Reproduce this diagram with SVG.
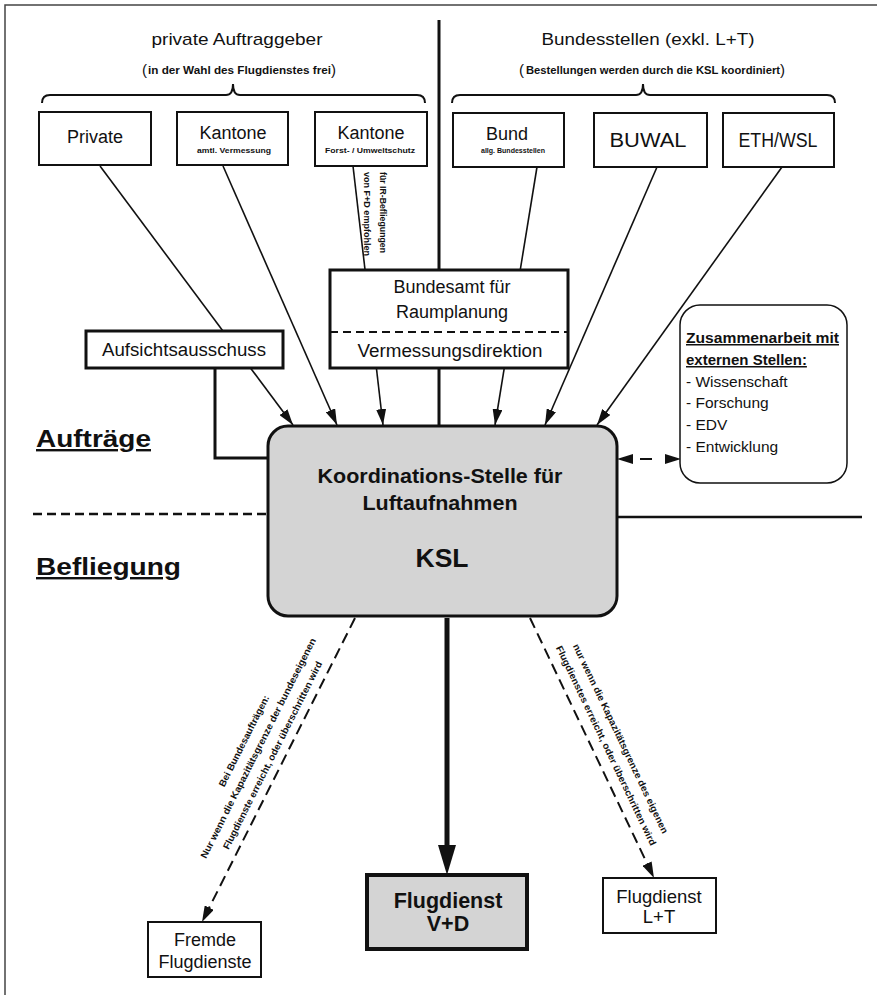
<svg xmlns="http://www.w3.org/2000/svg" width="879" height="995" viewBox="0 0 879 995">
<style>
  .t { font-family: "Liberation Sans", Arial, Helvetica, sans-serif; fill: #111; }
  .b { font-weight: bold; }
  .box { fill: #fff; stroke: #111; stroke-width: 2; }
  .thick { fill: #fff; stroke: #111; stroke-width: 3; }
  .grey { fill: #d4d4d4; }
  .conn { fill: none; stroke: #111; stroke-width: 1.6; }
  .dash { fill: none; stroke: #111; stroke-width: 2; stroke-dasharray: 11 6; }
  .div { fill: none; stroke: #111; stroke-width: 3; }
  .brace { fill: none; stroke: #111; stroke-width: 2; }
</style>
<defs>
  <marker id="ah" viewBox="0 0 16 10" refX="16" refY="5" markerWidth="16" markerHeight="10" markerUnits="userSpaceOnUse" orient="auto">
    <path d="M0,0 L16,5 L0,10 z" fill="#111"/>
  </marker>
  <marker id="ah2" viewBox="0 0 16 10" refX="16" refY="5" markerWidth="16" markerHeight="10" markerUnits="userSpaceOnUse" orient="auto-start-reverse">
    <path d="M0,0 L16,5 L0,10 z" fill="#111"/>
  </marker>
  <marker id="ahBig" viewBox="0 0 30 18" refX="15" refY="9" markerWidth="30" markerHeight="18" markerUnits="userSpaceOnUse" orient="auto">
    <path d="M0,0 L30,9 L0,18 z" fill="#111"/>
  </marker>
</defs>

<rect x="0" y="0" width="879" height="995" fill="#fff"/>

<!-- frame -->
<path d="M5,995 V5 H877" fill="none" stroke="#444" stroke-width="1.5"/>

<!-- dividers -->
<g id="dividers">
  <path class="div" d="M439,20 V270 M439,368 V426"/>
  <path d="M33,514 H268" fill="none" stroke="#111" stroke-width="2.5" stroke-dasharray="9 5"/>
  <path d="M617,517 H862" fill="none" stroke="#111" stroke-width="2.5"/>
</g>

<!-- headers -->
<g id="header-private">
  <text class="t" x="237" y="45" font-size="17" text-anchor="middle" textLength="171" lengthAdjust="spacingAndGlyphs">private Auftraggeber</text>
  <text class="t" x="142" y="75" font-size="15">(</text>
  <text class="t b" x="148" y="74" font-size="11" textLength="183" lengthAdjust="spacingAndGlyphs">in der Wahl des Flugdienstes frei</text>
  <text class="t" x="331" y="75" font-size="15">)</text>
  <path class="brace" d="M42,103 Q42,95 50,95 L226,95 Q233,95 233,84 Q233,95 240,95 L417,95 Q425,95 425,103"/>
</g>
<g id="header-bund">
  <text class="t" x="648" y="45" font-size="17" text-anchor="middle" textLength="213" lengthAdjust="spacingAndGlyphs">Bundesstellen (exkl. L+T)</text>
  <text class="t" x="519" y="75" font-size="15">(</text>
  <text class="t b" x="526" y="74" font-size="11" textLength="254" lengthAdjust="spacingAndGlyphs">Bestellungen werden durch die KSL koordiniert</text>
  <text class="t" x="780" y="75" font-size="15">)</text>
  <path class="brace" d="M452,103 Q452,95 460,95 L636,95 Q643,95 643,84 Q643,95 650,95 L827,95 Q835,95 835,103"/>
</g>

<!-- section labels -->
<g id="labels">
  <text class="t b" x="36" y="447" font-size="24" text-decoration="underline" textLength="115" lengthAdjust="spacingAndGlyphs">Aufträge</text>
  <text class="t b" x="36" y="575" font-size="24" text-decoration="underline" textLength="145" lengthAdjust="spacingAndGlyphs">Befliegung</text>
</g>

<!-- connectors -->
<g id="connectors">
  <path class="conn" d="M100,166 L293,425" marker-end="url(#ah)"/>
  <path class="conn" d="M223,166 L337,425" marker-end="url(#ah)"/>
  <path class="conn" d="M353,166 L383,425" marker-end="url(#ah)"/>
  <path class="conn" d="M537,167 L495,425" marker-end="url(#ah)"/>
  <path class="conn" d="M657,167 L545,425" marker-end="url(#ah)"/>
  <path class="conn" d="M782,167 L597,425" marker-end="url(#ah)"/>
  <path d="M215,368 V458 H268" fill="none" stroke="#111" stroke-width="3"/>
  <path d="M617,459 L681,459" fill="none" stroke="#111" stroke-width="2" stroke-dasharray="0 23 12 100" marker-start="url(#ah2)" marker-end="url(#ah2)"/>
  <path d="M447,618 V860" fill="none" stroke="#111" stroke-width="5" marker-end="url(#ahBig)"/>
  <path class="dash" d="M355,618 L202,922" marker-end="url(#ah)"/>
  <path class="dash" d="M530,618 L654,878" marker-end="url(#ah)"/>
  <text class="t b" font-size="9" transform="translate(375,172) rotate(90)">
    <tspan x="0" y="-5" textLength="81" lengthAdjust="spacingAndGlyphs">für IR-Befliegungen</tspan>
    <tspan x="0" y="11" textLength="84" lengthAdjust="spacingAndGlyphs">von F+D empfohlen</tspan>
  </text>
  <g transform="translate(258,748) rotate(-63.3)">
    <text class="t b" font-size="9.5" text-anchor="middle" x="0" y="-12.5" textLength="101" lengthAdjust="spacingAndGlyphs">Bei Bundesaufträgen:</text>
    <text class="t b" font-size="9.5" text-anchor="middle" x="0" y="3.5" textLength="245" lengthAdjust="spacingAndGlyphs">Nur wenn die Kapazitätsgrenze der bundeseigenen</text>
    <text class="t b" font-size="9.5" text-anchor="middle" x="0" y="19.5" textLength="209" lengthAdjust="spacingAndGlyphs">Flugdienste erreicht, oder überschritten wird</text>
  </g>
  <g transform="translate(613.6,742) rotate(64.5)">
    <text class="t b" font-size="9.5" text-anchor="middle" x="0" y="-4.5" textLength="209" lengthAdjust="spacingAndGlyphs">nur wenn die Kapazitätsgrenze des eigenen</text>
    <text class="t b" font-size="9.5" text-anchor="middle" x="0" y="11.5" textLength="220" lengthAdjust="spacingAndGlyphs">Flugdienstes erreicht, oder überschritten wird</text>
  </g>
</g>

<!-- nodes -->
<g id="n-private">
  <rect class="box" x="39" y="112" width="112" height="53"/>
  <text class="t" x="95" y="143" font-size="18" text-anchor="middle">Private</text>
</g>
<g id="n-kantone-verm">
  <rect class="box" x="177" y="112" width="111" height="53"/>
  <text class="t" x="233" y="139" font-size="18" text-anchor="middle">Kantone</text>
  <text class="t b" x="234" y="153" font-size="7.5" text-anchor="middle" textLength="74" lengthAdjust="spacingAndGlyphs">amtl. Vermessung</text>
</g>
<g id="n-kantone-forst">
  <rect class="box" x="315" y="112" width="112" height="54"/>
  <text class="t" x="371" y="139" font-size="18" text-anchor="middle">Kantone</text>
  <text class="t b" x="370" y="153" font-size="7.5" text-anchor="middle" textLength="90" lengthAdjust="spacingAndGlyphs">Forst- / Umweltschutz</text>
</g>
<g id="n-bund">
  <rect class="box" x="453" y="113" width="111" height="54"/>
  <text class="t" x="507" y="140" font-size="18" text-anchor="middle">Bund</text>
  <text class="t b" x="513" y="153" font-size="7" text-anchor="middle" textLength="64" lengthAdjust="spacingAndGlyphs">allg. Bundesstellen</text>
</g>
<g id="n-buwal">
  <rect class="box" x="594" y="113" width="113" height="54"/>
  <text class="t" x="648" y="147" font-size="20" text-anchor="middle" textLength="77" lengthAdjust="spacingAndGlyphs">BUWAL</text>
</g>
<g id="n-eth">
  <rect class="box" x="723" y="113" width="111" height="54"/>
  <text class="t" x="778" y="147" font-size="20" text-anchor="middle" textLength="79" lengthAdjust="spacingAndGlyphs">ETH/WSL</text>
</g>
<g id="n-bundesamt">
  <rect class="thick" x="330" y="270" width="238" height="98"/>
  <path d="M330,332 H568" stroke="#111" stroke-width="2" stroke-dasharray="8 5"/>
  <text class="t" x="452" y="293" font-size="18" text-anchor="middle">Bundesamt für</text>
  <text class="t" x="452" y="318" font-size="18" text-anchor="middle">Raumplanung</text>
  <text class="t" x="450" y="357" font-size="18" text-anchor="middle" textLength="185" lengthAdjust="spacingAndGlyphs">Vermessungsdirektion</text>
</g>
<g id="n-aufsicht">
  <rect class="thick" x="86" y="331" width="197" height="37" stroke-width="2.5"/>
  <text class="t" x="184" y="356" font-size="18" text-anchor="middle" textLength="164" lengthAdjust="spacingAndGlyphs">Aufsichtsausschuss</text>
</g>
<g id="n-ksl">
  <rect x="268" y="426" width="349" height="190" rx="20" fill="#d4d4d4" stroke="#111" stroke-width="3"/>
  <text class="t b" x="440" y="483" font-size="20" text-anchor="middle" textLength="245" lengthAdjust="spacingAndGlyphs">Koordinations-Stelle für</text>
  <text class="t b" x="440" y="510" font-size="20" text-anchor="middle" textLength="155" lengthAdjust="spacingAndGlyphs">Luftaufnahmen</text>
  <text class="t b" x="442" y="567" font-size="25" text-anchor="middle" textLength="53" lengthAdjust="spacingAndGlyphs">KSL</text>
</g>
<g id="n-extern">
  <rect x="680" y="305" width="167" height="178" rx="20" fill="#fff" stroke="#111" stroke-width="1.5"/>
  <text class="t b" x="686" y="343" font-size="15" text-decoration="underline" textLength="153" lengthAdjust="spacingAndGlyphs">Zusammenarbeit mit</text>
  <text class="t b" x="686" y="365" font-size="15" text-decoration="underline">externen Stellen:</text>
  <text class="t" x="686" y="387" font-size="15.5">- Wissenschaft</text>
  <text class="t" x="686" y="408" font-size="15.5">- Forschung</text>
  <text class="t" x="686" y="430" font-size="15.5">- EDV</text>
  <text class="t" x="686" y="452" font-size="15.5">- Entwicklung</text>
</g>
<g id="n-fremde">
  <rect class="box" x="148" y="922" width="113" height="55"/>
  <text class="t" x="205" y="946" font-size="18" text-anchor="middle">Fremde</text>
  <text class="t" x="205" y="968" font-size="18" text-anchor="middle">Flugdienste</text>
</g>
<g id="n-vd">
  <rect x="367" y="875" width="160" height="74" fill="#d4d4d4" stroke="#111" stroke-width="4"/>
  <text class="t b" x="448" y="908" font-size="21.5" text-anchor="middle">Flugdienst</text>
  <text class="t b" x="448" y="931" font-size="21.5" text-anchor="middle">V+D</text>
</g>
<g id="n-lt">
  <rect class="box" x="603" y="878" width="113" height="55"/>
  <text class="t" x="659" y="903" font-size="18.5" text-anchor="middle">Flugdienst</text>
  <text class="t" x="659" y="923" font-size="18.5" text-anchor="middle">L+T</text>
</g>
</svg>
